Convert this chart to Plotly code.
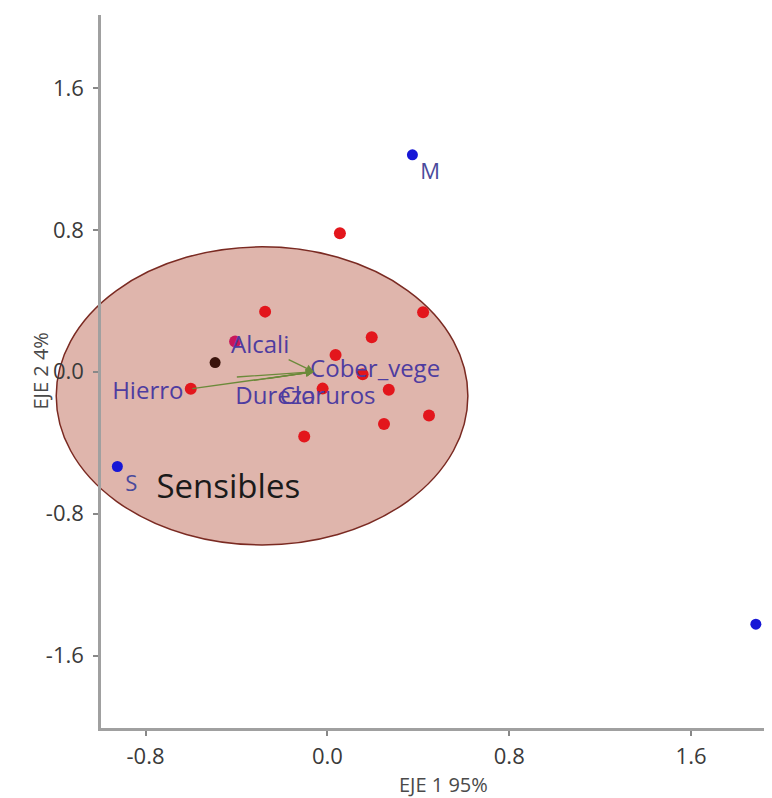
import plotly.graph_objects as go

# ---- data ----
site_labels = ["M", "S", "B"]
site_x = [0.374, -0.924, 1.885]
site_y = [1.223, -0.534, -1.423]

sample_x = [0.055, -0.274, 0.421, 0.195, 0.036, 0.155, -0.601, -0.021, 0.270, 0.447, 0.249, -0.102]
sample_y = [0.781, 0.339, 0.336, 0.195, 0.094, -0.014, -0.096, -0.095, -0.102, -0.247, -0.294, -0.365]

alcali_pt_x = [-0.406]
alcali_pt_y = [0.170]
centroid_x = [-0.494]
centroid_y = [0.052]

var_names = ["Hierro", "Alcali", "Dureza", "Cloruros", "Cober_vege"]
var_label_x = [-0.79, -0.296, -0.229, 0.001, 0.21]
var_label_y = [-0.119, 0.142, -0.147, -0.147, 0.007]
vec_tail_x = [-0.601, -0.405, -0.33, -0.27, -0.177]
vec_tail_y = [-0.096, -0.03, -0.05, -0.04, 0.073]
vec_head_x = -0.06
vec_head_y = 0.0

group_name = "Sensibles"
group_label_x = [-0.436]
group_label_y = [-0.666]
ellipse_x = [-1.193, 0.618]
ellipse_y = [-0.976, 0.704]

x_title = "EJE 1 95%"
y_title = "EJE 2 4%"
x_range = [-0.996, 1.956]
y_range = [-2.008, 2.011]
tick_vals = [-1.6, -0.8, 0.0, 0.8, 1.6]
tick_text = ["-1.6", "-0.8", "0.0", "0.8", "1.6"]

FONT = "Open Sans"

fig = go.Figure()

fig.add_trace(go.Scatter(x=sample_x, y=sample_y, mode="markers",
                         marker=dict(color="#e3161c", size=12), hoverinfo="skip", cliponaxis=False))
fig.add_trace(go.Scatter(x=alcali_pt_x, y=alcali_pt_y, mode="markers",
                         marker=dict(color="#c8175a", size=12), hoverinfo="skip"))
fig.add_trace(go.Scatter(x=centroid_x, y=centroid_y, mode="markers",
                         marker=dict(color="#3a140c", size=11), hoverinfo="skip"))
fig.add_trace(go.Scatter(x=site_x, y=site_y, mode="markers+text", text=site_labels,
                         textposition="bottom right",
                         textfont=dict(color="#4a4a9c", size=22, family=FONT),
                         marker=dict(color="#1717d6", size=11), hoverinfo="skip", cliponaxis=False))

for tx, ty in zip(vec_tail_x, vec_tail_y):
    fig.add_annotation(x=vec_head_x, y=vec_head_y, ax=tx, ay=ty, xref="x", yref="y",
                       axref="x", ayref="y", showarrow=True, arrowhead=2, arrowsize=1.2,
                       arrowwidth=1.3, arrowcolor="#6b8a3a", text="")

fig.add_trace(go.Scatter(x=var_label_x, y=var_label_y, mode="text", text=var_names,
                         textposition="middle center",
                         textfont=dict(color="#4e3ca0", size=24, family=FONT), hoverinfo="skip"))
fig.add_trace(go.Scatter(x=group_label_x, y=group_label_y, mode="text", text=[group_name],
                         textposition="middle center",
                         textfont=dict(color="#1a1a1a", size=33, family=FONT), hoverinfo="skip"))

def to_paper(v, r):
    return (v - r[0]) / (r[1] - r[0])

fig.add_shape(type="circle", xref="paper", yref="paper",
              x0=to_paper(ellipse_x[0], x_range), x1=to_paper(ellipse_x[1], x_range),
              y0=to_paper(ellipse_y[0], y_range), y1=to_paper(ellipse_y[1], y_range),
              fillcolor="#dfb5ac", line=dict(color="#7a2a22", width=1.5), layer="below")

# axis titles as annotations for exact placement
fig.add_annotation(text=x_title, xref="paper", yref="paper", x=0.51, y=0, yshift=-56,
                   showarrow=False, xanchor="center", yanchor="middle",
                   font=dict(size=20, color="#4a4a4a", family=FONT))
fig.add_annotation(text=y_title, xref="paper", yref="paper", x=0, y=0.5, xshift=-61,
                   showarrow=False, xanchor="center", yanchor="middle", textangle=-90,
                   font=dict(size=20, color="#4a4a4a", family=FONT))

axis_common = dict(showgrid=False, zeroline=False, showline=True, linecolor="#a0a0a0",
                   linewidth=2.5, ticks="outside", ticklen=5, tickwidth=1.5, tickcolor="#888",
                   tickfont=dict(size=22, color="#3a3a3a", family=FONT),
                   tickvals=tick_vals, ticktext=tick_text, automargin=False)

# page body adds an 8px offset; figure sized to fit the window exactly
fig.update_layout(
    width=764, height=790,
    margin=dict(l=93, r=0, t=7, b=70),
    paper_bgcolor="white", plot_bgcolor="rgba(0,0,0,0)",
    showlegend=False,
    xaxis=dict(range=x_range, ticklabelstandoff=2, **axis_common),
    yaxis=dict(range=y_range, ticklabelstandoff=5, **axis_common),
)

fig.write_html("out.html")
